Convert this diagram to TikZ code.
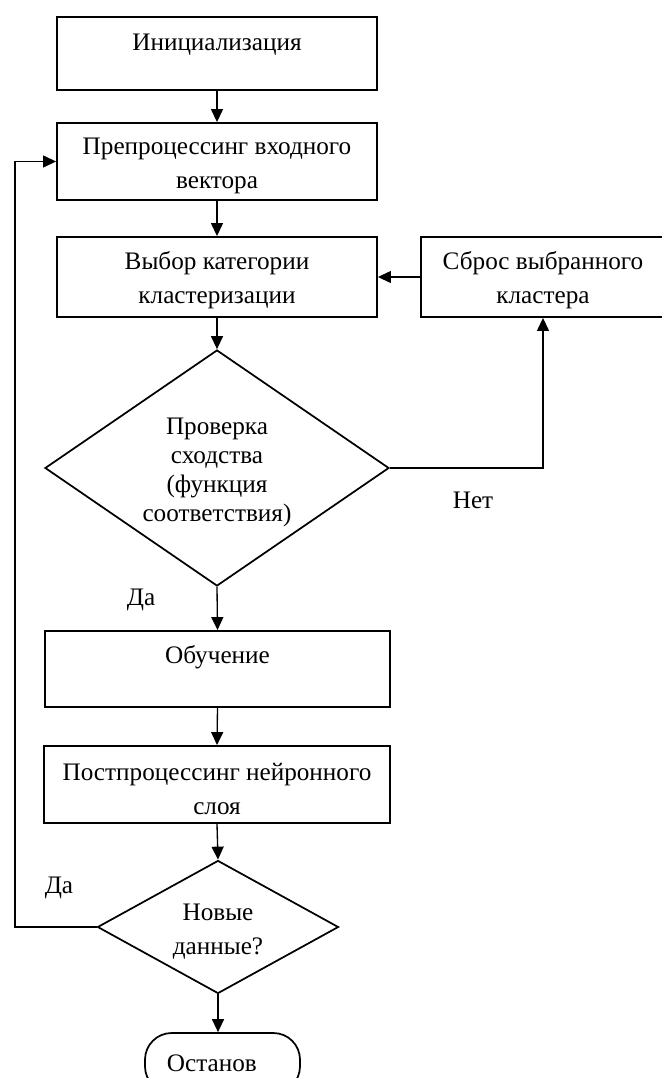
\documentclass[tikz,border=0pt]{standalone}
\usepackage{fontspec}
\setmainfont{Liberation Serif}
\usepackage{tikz}
\usetikzlibrary{shapes.geometric, arrows.meta}
\tikzstyle{chart} = [x = .75pt, y = -.75pt, every node/.style={font=\fontsize{18.9}{25.5}\selectfont}]
\tikzstyle{blockStyle} = [draw, line width=1.4pt, rectangle, align=center, inner sep=0pt]
\tikzstyle{decisionStyle} = [draw, line width=1.3pt, diamond, align=center, inner sep=0pt]
\tikzstyle{tightText} = [font=\fontsize{18.9}{21.75}\selectfont]
\tikzstyle{terminalStyle} = [draw, line width=1.3pt, rectangle, rounded corners=20pt, inner sep=0pt]
\tikzstyle{arrowStyle} = [line width=1pt, -{Triangle[length=9.75pt, width=9pt]}]
\newcommand{\lowStrut}{\rule{0pt}{19pt}}

\begin{document}
\begin{tikzpicture}[chart]
          \useasboundingbox (0,0) rectangle (661,1078);
          % blocks
          \node [blockStyle, minimum width=240pt, minimum height=54.75pt,
                 text height=24.75pt, text depth=30pt] (init) at (217,53.5) {Инициализация};
          \node [blockStyle, minimum width=240pt, minimum height=57.75pt] (prep) at (217,161.5)
                {\lowStrut Препроцессинг входного\\вектора};
          \node [blockStyle, minimum width=240pt, minimum height=60pt] (select) at (217,277)
                {\lowStrut Выбор категории\\кластеризации};
          \node [blockStyle, minimum width=183pt, minimum height=60pt] (reset) at (543,277)
                {\lowStrut Сброс выбранного\\кластера};
          \node [decisionStyle, tightText, minimum width=258pt, minimum height=177pt, aspect=1.46] (check) at (217,468)
                {\lowStrut Проверка\\сходства\\(функция\\соответствия)};
          \node [blockStyle, minimum width=258.75pt, minimum height=57pt,
                 text height=24pt, text depth=33pt] (learn) at (217.5,669) {Обучение};
          \node [blockStyle, minimum width=259.5pt, minimum height=57.75pt] (post) at (217,784.5)
                {\lowStrut Постпроцессинг нейронного\\слоя};
          \node [decisionStyle, minimum width=180.75pt, minimum height=99.75pt, aspect=1.8] (newdata) at (218,927)
                {\lowStrut Новые\\данные?};
          \node [terminalStyle, minimum width=116.25pt, minimum height=45pt] (stop) at (222.5,1063)
                {Останов\kern16pt};

          % labels
          \node (noLabel) at (473,500) {Нет};
          \node (yesLabel) at (141,600) {Да};
          \node (againLabel) at (59,888) {Да};

          % connectors
          \draw [arrowStyle] (init) -- (prep);
          \draw [arrowStyle] (prep) -- (select);
          \draw [arrowStyle] (select) -- (check);
          \draw [arrowStyle] (reset) -- (select);
          \draw [arrowStyle] (check.east) -| (reset.south);
          \draw [arrowStyle] (check.south) -- (learn.north);
          \draw [arrowStyle] (learn.south) -- (post.north);
          \draw [arrowStyle] (post.south) -- (newdata.north);
          \draw [arrowStyle] (newdata.south) -- (newdata.south |- stop.north);
          \coordinate (loop) at (15,927);
          \draw [arrowStyle] (newdata.west) -- (loop) |- (prep.west);
        \end{tikzpicture}
\end{document}
